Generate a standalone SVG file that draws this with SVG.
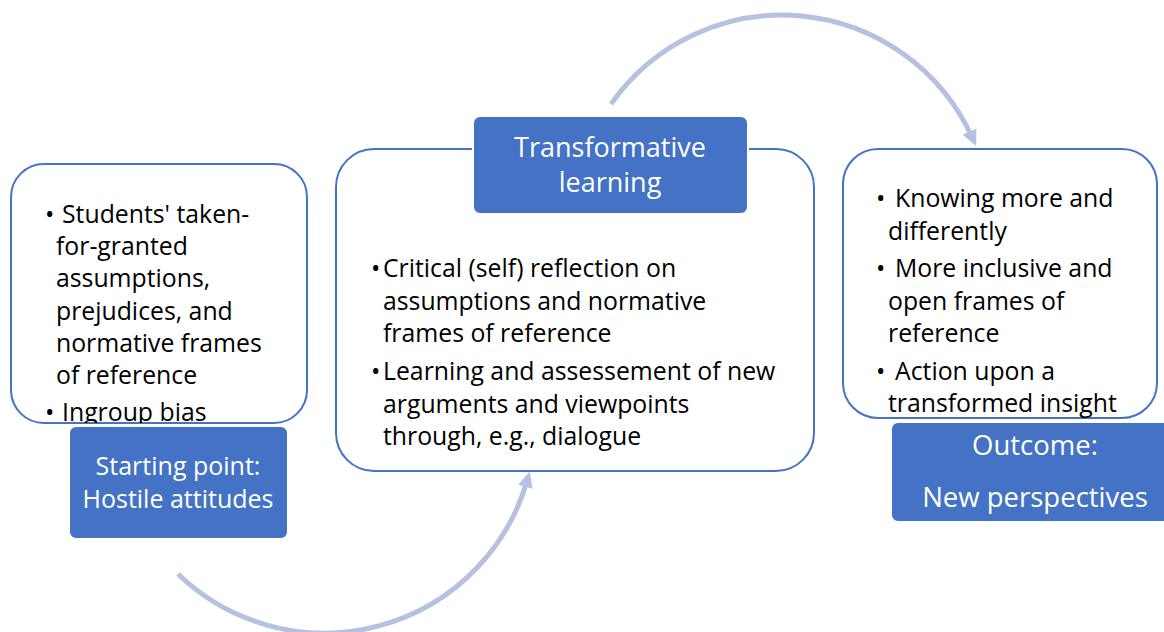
<svg xmlns="http://www.w3.org/2000/svg" width="1164" height="632" viewBox="0 0 1164 632">
<defs>
<style>
.frame{fill:#fff;stroke:#4472C4;stroke-width:2}
.label{fill:#4472C4;stroke:#fff;stroke-width:2}
.t{font-family:"Open Sans","Noto Sans","DejaVu Sans",sans-serif;font-size:24.8px;fill:#000}
.w{font-family:"Open Sans","Noto Sans","DejaVu Sans",sans-serif;font-size:25px;fill:#fff;text-anchor:middle}
.arc{fill:none;stroke:#B4C1E1;stroke-width:5}
</style>
<marker id="ah" markerUnits="userSpaceOnUse" markerWidth="20" markerHeight="20" viewBox="0 0 20 20" refX="8" refY="10" orient="auto">
<path d="M2,2.5 L18,10 L2,17.5 Z" fill="#B4C1E1"/>
</marker>
<clipPath id="clipL"><rect x="10" y="163" width="298" height="260"/></clipPath>
</defs>

<g id="connectors">
<path class="arc" d="M178,574 A211,211 0 0 0 527,481" marker-end="url(#ah)"/>
<path class="arc" d="M611,104 A209,209 0 0 1 972,137" marker-end="url(#ah)"/>
</g>

<g id="start-box">
<rect class="frame" x="11" y="164" width="296" height="259" rx="33"/>
<g clip-path="url(#clipL)" class="t">
<text x="45" y="223">•</text><text x="62" y="223">Students' taken-</text>
<text x="56" y="255">for-granted</text>
<text x="56" y="287">assumptions,</text>
<text x="56" y="320">prejudices, and</text>
<text x="56" y="352">normative frames</text>
<text x="56" y="384">of reference</text>
<text x="45" y="421">•</text><text x="62" y="421">Ingroup bias</text>
</g>
</g>

<g id="start-label">
<rect class="label" x="69" y="426" width="219" height="113" rx="7"/>
<text class="w" x="178" y="475">Starting point:</text>
<text class="w" x="178" y="508">Hostile attitudes</text>
</g>

<g id="middle-box">
<rect class="frame" x="336" y="149" width="478" height="322" rx="38"/>
<g class="t">
<text x="371" y="277">•</text><text x="383" y="277">Critical (self) reflection on</text>
<text x="383" y="310">assumptions and normative</text>
<text x="383" y="342">frames of reference</text>
<text x="371" y="380">•</text><text x="383" y="380">Learning and assessement of new</text>
<text x="383" y="413">arguments and viewpoints</text>
<text x="383" y="445">through, e.g., dialogue</text>
</g>
</g>

<g id="middle-label">
<rect class="label" x="473" y="116" width="275" height="98" rx="7"/>
<text class="w" x="610" y="157" style="font-size:27px">Transformative</text>
<text class="w" x="610" y="192" style="font-size:27px">learning</text>
</g>

<g id="outcome-box">
<rect class="frame" x="843" y="149" width="314" height="269" rx="35"/>
<g class="t">
<text x="876" y="207">•</text><text x="895" y="207">Knowing more and</text>
<text x="888" y="240">differently</text>
<text x="876" y="277">•</text><text x="895" y="277">More inclusive and</text>
<text x="888" y="310">open frames of</text>
<text x="888" y="342">reference</text>
<text x="876" y="380">•</text><text x="895" y="380">Action upon a</text>
<text x="888" y="412">transformed insight</text>
</g>
</g>

<g id="outcome-label">
<rect class="label" x="891" y="422" width="290" height="100" rx="7"/>
<text class="w" x="1035" y="455" style="font-size:27.5px">Outcome:</text>
<text class="w" x="1035" y="507" style="font-size:27.5px">New perspectives</text>
</g>
</svg>
